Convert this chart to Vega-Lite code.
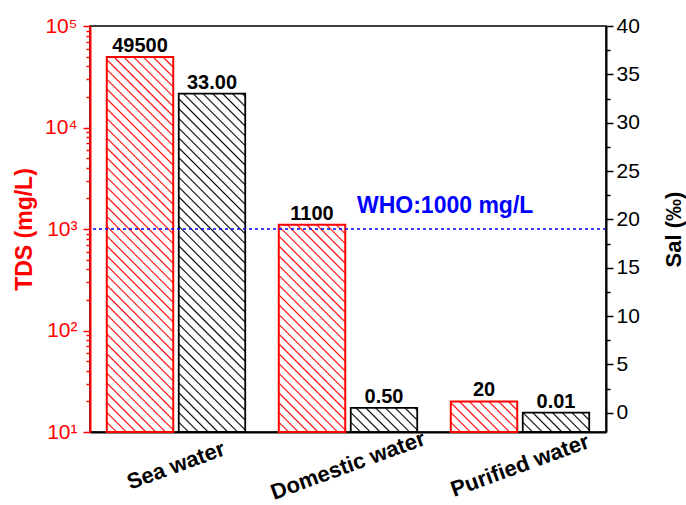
{
  "$schema": "https://vega.github.io/schema/vega-lite/v6.json",
  "width": 516,
  "height": 406,
  "autosize": "none",
  "padding": {"left": 90, "top": 26, "right": 80, "bottom": 73},
  "background": "white",
  "config": {
    "font": "Liberation Sans",
    "view": {"stroke": "#000", "strokeWidth": 1.5},
    "axisX": {
      "labelAngle": -20, "labelAlign": "center", "labelBaseline": "middle",
      "labelFontSize": 22, "labelFontWeight": "bold", "labelColor": "#000",
      "labelPadding": 33, "ticks": false, "domainColor": "#000", "domainWidth": 2,
      "zindex": 1, "grid": false
    }
  },
  "data": {
    "values": [
      {"cat": "Sea water", "series": "TDS", "value": 49500},
      {"cat": "Sea water", "series": "Sal", "value": 33},
      {"cat": "Domestic water", "series": "TDS", "value": 1100},
      {"cat": "Domestic water", "series": "Sal", "value": 0.5},
      {"cat": "Purified water", "series": "TDS", "value": 20},
      {"cat": "Purified water", "series": "Sal", "value": 0.01},
      {"series": "limit", "value": 1000, "note": "WHO:1000 mg/L"}
    ]
  },
  "layer": [
    {
      "encoding": {
        "y": {
          "field": "value", "type": "quantitative",
          "scale": {"domain": [-2, 40], "nice": false, "zero": false},
          "axis": {
            "orient": "right", "title": "Sal (‰)", "titleColor": "#000", "titleFontSize": 22, "titleFontWeight": "bold",
            "titleAngle": 270, "titleBaseline": "top", "titlePadding": 24,
            "values": [0,2.5,5,7.5,10,12.5,15,17.5,20,22.5,25,27.5,30,32.5,35,37.5,40],
            "format": "d",
            "labelExpr": "datum.value % 5 == 0 ? datum.label : ''",
            "labelColor": "#000", "labelFontSize": 21, "labelPadding": 3, "labelOverlap": false,
            "domainColor": "#000", "domainWidth": 2, "tickColor": "#000", "tickWidth": 1.5,
            "tickSize": {"condition": {"test": "datum.value % 5 == 0", "value": 7}, "value": 4},
            "grid": false, "zindex": 1
          }
        }
      },
      "layer": [
        {
          "transform": [{"filter": "datum.series == 'Sal' && datum.cat == 'Sea water'"}],
          "mark": {"type": "bar", "stroke": "#000", "strokeWidth": 1.8, "fill": {"gradient": "linear", "x1": 0, "y1": 1, "x2": 0.274001, "y2": -0.394456, "stops": [
            {"offset":0,"color":"#000"},{"offset":0.0032,"color":"#fff"},{"offset":0.0168,"color":"#fff"},
            {"offset":0.02,"color":"#000"},{"offset":0.0232,"color":"#fff"},{"offset":0.0368,"color":"#fff"},
            {"offset":0.04,"color":"#000"},{"offset":0.0432,"color":"#fff"},{"offset":0.0568,"color":"#fff"},
            {"offset":0.06,"color":"#000"},{"offset":0.0632,"color":"#fff"},{"offset":0.0768,"color":"#fff"},
            {"offset":0.08,"color":"#000"},{"offset":0.0832,"color":"#fff"},{"offset":0.0968,"color":"#fff"},
            {"offset":0.1,"color":"#000"},{"offset":0.1032,"color":"#fff"},{"offset":0.1168,"color":"#fff"},
            {"offset":0.12,"color":"#000"},{"offset":0.1232,"color":"#fff"},{"offset":0.1368,"color":"#fff"},
            {"offset":0.14,"color":"#000"},{"offset":0.1432,"color":"#fff"},{"offset":0.1568,"color":"#fff"},
            {"offset":0.16,"color":"#000"},{"offset":0.1632,"color":"#fff"},{"offset":0.1768,"color":"#fff"},
            {"offset":0.18,"color":"#000"},{"offset":0.1832,"color":"#fff"},{"offset":0.1968,"color":"#fff"},
            {"offset":0.2,"color":"#000"},{"offset":0.2032,"color":"#fff"},{"offset":0.2168,"color":"#fff"},
            {"offset":0.22,"color":"#000"},{"offset":0.2232,"color":"#fff"},{"offset":0.2368,"color":"#fff"},
            {"offset":0.24,"color":"#000"},{"offset":0.2432,"color":"#fff"},{"offset":0.2568,"color":"#fff"},
            {"offset":0.26,"color":"#000"},{"offset":0.2632,"color":"#fff"},{"offset":0.2768,"color":"#fff"},
            {"offset":0.28,"color":"#000"},{"offset":0.2832,"color":"#fff"},{"offset":0.2968,"color":"#fff"},
            {"offset":0.3,"color":"#000"},{"offset":0.3032,"color":"#fff"},{"offset":0.3168,"color":"#fff"},
            {"offset":0.32,"color":"#000"},{"offset":0.3232,"color":"#fff"},{"offset":0.3368,"color":"#fff"},
            {"offset":0.34,"color":"#000"},{"offset":0.3432,"color":"#fff"},{"offset":0.3568,"color":"#fff"},
            {"offset":0.36,"color":"#000"},{"offset":0.3632,"color":"#fff"},{"offset":0.3768,"color":"#fff"},
            {"offset":0.38,"color":"#000"},{"offset":0.3832,"color":"#fff"},{"offset":0.3968,"color":"#fff"},
            {"offset":0.4,"color":"#000"},{"offset":0.4032,"color":"#fff"},{"offset":0.4168,"color":"#fff"},
            {"offset":0.42,"color":"#000"},{"offset":0.4232,"color":"#fff"},{"offset":0.4368,"color":"#fff"},
            {"offset":0.44,"color":"#000"},{"offset":0.4432,"color":"#fff"},{"offset":0.4568,"color":"#fff"},
            {"offset":0.46,"color":"#000"},{"offset":0.4632,"color":"#fff"},{"offset":0.4768,"color":"#fff"},
            {"offset":0.48,"color":"#000"},{"offset":0.4832,"color":"#fff"},{"offset":0.4968,"color":"#fff"},
            {"offset":0.5,"color":"#000"},{"offset":0.5032,"color":"#fff"},{"offset":0.5168,"color":"#fff"},
            {"offset":0.52,"color":"#000"},{"offset":0.5232,"color":"#fff"},{"offset":0.5368,"color":"#fff"},
            {"offset":0.54,"color":"#000"},{"offset":0.5432,"color":"#fff"},{"offset":0.5568,"color":"#fff"},
            {"offset":0.56,"color":"#000"},{"offset":0.5632,"color":"#fff"},{"offset":0.5768,"color":"#fff"},
            {"offset":0.58,"color":"#000"},{"offset":0.5832,"color":"#fff"},{"offset":0.5968,"color":"#fff"},
            {"offset":0.6,"color":"#000"},{"offset":0.6032,"color":"#fff"},{"offset":0.6168,"color":"#fff"},
            {"offset":0.62,"color":"#000"},{"offset":0.6232,"color":"#fff"},{"offset":0.6368,"color":"#fff"},
            {"offset":0.64,"color":"#000"},{"offset":0.6432,"color":"#fff"},{"offset":0.6568,"color":"#fff"},
            {"offset":0.66,"color":"#000"},{"offset":0.6632,"color":"#fff"},{"offset":0.6768,"color":"#fff"},
            {"offset":0.68,"color":"#000"},{"offset":0.6832,"color":"#fff"},{"offset":0.6968,"color":"#fff"},
            {"offset":0.7,"color":"#000"},{"offset":0.7032,"color":"#fff"},{"offset":0.7168,"color":"#fff"},
            {"offset":0.72,"color":"#000"},{"offset":0.7232,"color":"#fff"},{"offset":0.7368,"color":"#fff"},
            {"offset":0.74,"color":"#000"},{"offset":0.7432,"color":"#fff"},{"offset":0.7568,"color":"#fff"},
            {"offset":0.76,"color":"#000"},{"offset":0.7632,"color":"#fff"},{"offset":0.7768,"color":"#fff"},
            {"offset":0.78,"color":"#000"},{"offset":0.7832,"color":"#fff"},{"offset":0.7968,"color":"#fff"},
            {"offset":0.8,"color":"#000"},{"offset":0.8032,"color":"#fff"},{"offset":0.8168,"color":"#fff"},
            {"offset":0.82,"color":"#000"},{"offset":0.8232,"color":"#fff"},{"offset":0.8368,"color":"#fff"}
          ]}},
          "encoding": {
            "x": {"field": "cat", "type": "nominal", "title": null, "scale": {"domain": ["Sea water", "Domestic water", "Purified water"], "paddingInner": 0.195, "paddingOuter": 0.0975}},
            "xOffset": {"field": "series", "type": "nominal", "scale": {"domain": ["TDS", "Sal"], "paddingInner": 0.0764, "paddingOuter": 0}},
            "y2": {"datum": -2}
          }
        },
        {
          "transform": [{"filter": "datum.series == 'Sal' && datum.cat == 'Domestic water'"}],
          "mark": {"type": "bar", "stroke": "#000", "strokeWidth": 1.8, "fill": {"gradient": "linear", "x1": 0, "y1": 1, "x2": 6.51011, "y2": -1.36688, "stops": [
            {"offset":0,"color":"#000"},{"offset":0.0032,"color":"#fff"},{"offset":0.0168,"color":"#fff"},
            {"offset":0.02,"color":"#000"},{"offset":0.0232,"color":"#fff"},{"offset":0.0368,"color":"#fff"},
            {"offset":0.04,"color":"#000"},{"offset":0.0432,"color":"#fff"},{"offset":0.0568,"color":"#fff"},
            {"offset":0.06,"color":"#000"},{"offset":0.0632,"color":"#fff"},{"offset":0.0768,"color":"#fff"},
            {"offset":0.08,"color":"#000"},{"offset":0.0832,"color":"#fff"},{"offset":0.0968,"color":"#fff"},
            {"offset":0.1,"color":"#000"},{"offset":0.1032,"color":"#fff"},{"offset":0.1168,"color":"#fff"},
            {"offset":0.12,"color":"#000"},{"offset":0.1232,"color":"#fff"},{"offset":0.1368,"color":"#fff"},
            {"offset":0.14,"color":"#000"},{"offset":0.1432,"color":"#fff"},{"offset":0.1568,"color":"#fff"},
            {"offset":0.16,"color":"#000"},{"offset":0.1632,"color":"#fff"},{"offset":0.1768,"color":"#fff"},
            {"offset":0.18,"color":"#000"},{"offset":0.1832,"color":"#fff"},{"offset":0.1968,"color":"#fff"}
          ]}},
          "encoding": {
            "x": {"field": "cat", "type": "nominal", "title": null, "scale": {"domain": ["Sea water", "Domestic water", "Purified water"], "paddingInner": 0.195, "paddingOuter": 0.0975}},
            "xOffset": {"field": "series", "type": "nominal", "scale": {"domain": ["TDS", "Sal"], "paddingInner": 0.0764, "paddingOuter": 0}},
            "y2": {"datum": -2}
          }
        },
        {
          "transform": [{"filter": "datum.series == 'Sal' && datum.cat == 'Purified water'"}],
          "mark": {"type": "bar", "stroke": "#000", "strokeWidth": 1.8, "fill": {"gradient": "linear", "x1": 0, "y1": 1, "x2": 6.79058, "y2": -0.98468, "stops": [
            {"offset":0,"color":"#000"},{"offset":0.0032,"color":"#fff"},{"offset":0.0168,"color":"#fff"},
            {"offset":0.02,"color":"#000"},{"offset":0.0232,"color":"#fff"},{"offset":0.0368,"color":"#fff"},
            {"offset":0.04,"color":"#000"},{"offset":0.0432,"color":"#fff"},{"offset":0.0568,"color":"#fff"},
            {"offset":0.06,"color":"#000"},{"offset":0.0632,"color":"#fff"},{"offset":0.0768,"color":"#fff"},
            {"offset":0.08,"color":"#000"},{"offset":0.0832,"color":"#fff"},{"offset":0.0968,"color":"#fff"},
            {"offset":0.1,"color":"#000"},{"offset":0.1032,"color":"#fff"},{"offset":0.1168,"color":"#fff"},
            {"offset":0.12,"color":"#000"},{"offset":0.1232,"color":"#fff"},{"offset":0.1368,"color":"#fff"},
            {"offset":0.14,"color":"#000"},{"offset":0.1432,"color":"#fff"},{"offset":0.1568,"color":"#fff"},
            {"offset":0.16,"color":"#000"},{"offset":0.1632,"color":"#fff"},{"offset":0.1768,"color":"#fff"}
          ]}},
          "encoding": {
            "x": {"field": "cat", "type": "nominal", "title": null, "scale": {"domain": ["Sea water", "Domestic water", "Purified water"], "paddingInner": 0.195, "paddingOuter": 0.0975}},
            "xOffset": {"field": "series", "type": "nominal", "scale": {"domain": ["TDS", "Sal"], "paddingInner": 0.0764, "paddingOuter": 0}},
            "y2": {"datum": -2}
          }
        },
        {
          "transform": [{"filter": "datum.series == 'Sal'"}],
          "mark": {"type": "text", "fontSize": 20, "fontWeight": "bold", "baseline": "alphabetic", "dy": -5, "color": "#000"},
          "encoding": {
            "x": {"field": "cat", "type": "nominal", "title": null, "scale": {"domain": ["Sea water", "Domestic water", "Purified water"], "paddingInner": 0.195, "paddingOuter": 0.0975}},
            "xOffset": {"field": "series", "type": "nominal", "scale": {"domain": ["TDS", "Sal"], "paddingInner": 0.0764, "paddingOuter": 0}},
            "text": {"field": "value", "type": "quantitative", "format": ".2f"}
          }
        }
      ]
    },
    {
      "encoding": {
        "y": {
          "field": "value", "type": "quantitative",
          "scale": {"type": "log", "domain": [10, 100000], "nice": false},
          "axis": {
            "orient": "left",
            "title": "TDS (mg/L)", "titleColor": "#f00", "titleFontSize": 23, "titleFontWeight": "bold", "titlePadding": 8,
            "values": [10,20,30,40,50,60,70,80,90,100,200,300,400,500,600,700,800,900,1000,2000,3000,4000,5000,6000,7000,8000,9000,10000,20000,30000,40000,50000,60000,70000,80000,90000,100000],
            "labelExpr": "datum.value==10?'10¹':datum.value==100?'10²':datum.value==1000?'10³':datum.value==10000?'10⁴':datum.value==100000?'10⁵':''",
            "labelColor": "#f00", "labelFontSize": 21, "labelPadding": 6, "labelOverlap": false,
            "domainColor": "#f00", "domainWidth": 2, "tickColor": "#f00", "tickWidth": 1.5,
            "tickSize": {"condition": {"test": "indexof([10,100,1000,10000,100000], datum.value) >= 0", "value": 7}, "value": 4},
            "grid": false, "zindex": 1
          }
        }
      },
      "layer": [
        {
          "transform": [{"filter": "datum.series == 'TDS' && datum.cat == 'Sea water'"}],
          "mark": {"type": "bar", "stroke": "#f00", "strokeWidth": 2, "fill": {"gradient": "linear", "x1": 0, "y1": 1, "x2": 0.224584, "y2": -0.266833, "stops": [
            {"offset":0,"color":"#f00"},{"offset":0.0032,"color":"#fff"},{"offset":0.0168,"color":"#fff"},
            {"offset":0.02,"color":"#f00"},{"offset":0.0232,"color":"#fff"},{"offset":0.0368,"color":"#fff"},
            {"offset":0.04,"color":"#f00"},{"offset":0.0432,"color":"#fff"},{"offset":0.0568,"color":"#fff"},
            {"offset":0.06,"color":"#f00"},{"offset":0.0632,"color":"#fff"},{"offset":0.0768,"color":"#fff"},
            {"offset":0.08,"color":"#f00"},{"offset":0.0832,"color":"#fff"},{"offset":0.0968,"color":"#fff"},
            {"offset":0.1,"color":"#f00"},{"offset":0.1032,"color":"#fff"},{"offset":0.1168,"color":"#fff"},
            {"offset":0.12,"color":"#f00"},{"offset":0.1232,"color":"#fff"},{"offset":0.1368,"color":"#fff"},
            {"offset":0.14,"color":"#f00"},{"offset":0.1432,"color":"#fff"},{"offset":0.1568,"color":"#fff"},
            {"offset":0.16,"color":"#f00"},{"offset":0.1632,"color":"#fff"},{"offset":0.1768,"color":"#fff"},
            {"offset":0.18,"color":"#f00"},{"offset":0.1832,"color":"#fff"},{"offset":0.1968,"color":"#fff"},
            {"offset":0.2,"color":"#f00"},{"offset":0.2032,"color":"#fff"},{"offset":0.2168,"color":"#fff"},
            {"offset":0.22,"color":"#f00"},{"offset":0.2232,"color":"#fff"},{"offset":0.2368,"color":"#fff"},
            {"offset":0.24,"color":"#f00"},{"offset":0.2432,"color":"#fff"},{"offset":0.2568,"color":"#fff"},
            {"offset":0.26,"color":"#f00"},{"offset":0.2632,"color":"#fff"},{"offset":0.2768,"color":"#fff"},
            {"offset":0.28,"color":"#f00"},{"offset":0.2832,"color":"#fff"},{"offset":0.2968,"color":"#fff"},
            {"offset":0.3,"color":"#f00"},{"offset":0.3032,"color":"#fff"},{"offset":0.3168,"color":"#fff"},
            {"offset":0.32,"color":"#f00"},{"offset":0.3232,"color":"#fff"},{"offset":0.3368,"color":"#fff"},
            {"offset":0.34,"color":"#f00"},{"offset":0.3432,"color":"#fff"},{"offset":0.3568,"color":"#fff"},
            {"offset":0.36,"color":"#f00"},{"offset":0.3632,"color":"#fff"},{"offset":0.3768,"color":"#fff"},
            {"offset":0.38,"color":"#f00"},{"offset":0.3832,"color":"#fff"},{"offset":0.3968,"color":"#fff"},
            {"offset":0.4,"color":"#f00"},{"offset":0.4032,"color":"#fff"},{"offset":0.4168,"color":"#fff"},
            {"offset":0.42,"color":"#f00"},{"offset":0.4232,"color":"#fff"},{"offset":0.4368,"color":"#fff"},
            {"offset":0.44,"color":"#f00"},{"offset":0.4432,"color":"#fff"},{"offset":0.4568,"color":"#fff"},
            {"offset":0.46,"color":"#f00"},{"offset":0.4632,"color":"#fff"},{"offset":0.4768,"color":"#fff"},
            {"offset":0.48,"color":"#f00"},{"offset":0.4832,"color":"#fff"},{"offset":0.4968,"color":"#fff"},
            {"offset":0.5,"color":"#f00"},{"offset":0.5032,"color":"#fff"},{"offset":0.5168,"color":"#fff"},
            {"offset":0.52,"color":"#f00"},{"offset":0.5232,"color":"#fff"},{"offset":0.5368,"color":"#fff"},
            {"offset":0.54,"color":"#f00"},{"offset":0.5432,"color":"#fff"},{"offset":0.5568,"color":"#fff"},
            {"offset":0.56,"color":"#f00"},{"offset":0.5632,"color":"#fff"},{"offset":0.5768,"color":"#fff"},
            {"offset":0.58,"color":"#f00"},{"offset":0.5832,"color":"#fff"},{"offset":0.5968,"color":"#fff"},
            {"offset":0.6,"color":"#f00"},{"offset":0.6032,"color":"#fff"},{"offset":0.6168,"color":"#fff"},
            {"offset":0.62,"color":"#f00"},{"offset":0.6232,"color":"#fff"},{"offset":0.6368,"color":"#fff"},
            {"offset":0.64,"color":"#f00"},{"offset":0.6432,"color":"#fff"},{"offset":0.6568,"color":"#fff"},
            {"offset":0.66,"color":"#f00"},{"offset":0.6632,"color":"#fff"},{"offset":0.6768,"color":"#fff"},
            {"offset":0.68,"color":"#f00"},{"offset":0.6832,"color":"#fff"},{"offset":0.6968,"color":"#fff"},
            {"offset":0.7,"color":"#f00"},{"offset":0.7032,"color":"#fff"},{"offset":0.7168,"color":"#fff"},
            {"offset":0.72,"color":"#f00"},{"offset":0.7232,"color":"#fff"},{"offset":0.7368,"color":"#fff"},
            {"offset":0.74,"color":"#f00"},{"offset":0.7432,"color":"#fff"},{"offset":0.7568,"color":"#fff"},
            {"offset":0.76,"color":"#f00"},{"offset":0.7632,"color":"#fff"},{"offset":0.7768,"color":"#fff"},
            {"offset":0.78,"color":"#f00"},{"offset":0.7832,"color":"#fff"},{"offset":0.7968,"color":"#fff"},
            {"offset":0.8,"color":"#f00"},{"offset":0.8032,"color":"#fff"},{"offset":0.8168,"color":"#fff"},
            {"offset":0.82,"color":"#f00"},{"offset":0.8232,"color":"#fff"},{"offset":0.8368,"color":"#fff"},
            {"offset":0.84,"color":"#f00"},{"offset":0.8432,"color":"#fff"},{"offset":0.8568,"color":"#fff"},
            {"offset":0.86,"color":"#f00"},{"offset":0.8632,"color":"#fff"},{"offset":0.8768,"color":"#fff"},
            {"offset":0.88,"color":"#f00"},{"offset":0.8832,"color":"#fff"},{"offset":0.8968,"color":"#fff"},
            {"offset":0.9,"color":"#f00"},{"offset":0.9032,"color":"#fff"},{"offset":0.9168,"color":"#fff"}
          ]}},
          "encoding": {
            "x": {"field": "cat", "type": "nominal", "title": null, "scale": {"domain": ["Sea water", "Domestic water", "Purified water"], "paddingInner": 0.195, "paddingOuter": 0.0975}},
            "xOffset": {"field": "series", "type": "nominal", "scale": {"domain": ["TDS", "Sal"], "paddingInner": 0.0764, "paddingOuter": 0}},
            "y2": {"datum": 10}
          }
        },
        {
          "transform": [{"filter": "datum.series == 'TDS' && datum.cat == 'Domestic water'"}],
          "mark": {"type": "bar", "stroke": "#f00", "strokeWidth": 2, "fill": {"gradient": "linear", "x1": 0, "y1": 1, "x2": 0.68795, "y2": -1.14415, "stops": [
            {"offset":0,"color":"#f00"},{"offset":0.0032,"color":"#fff"},{"offset":0.0168,"color":"#fff"},
            {"offset":0.02,"color":"#f00"},{"offset":0.0232,"color":"#fff"},{"offset":0.0368,"color":"#fff"},
            {"offset":0.04,"color":"#f00"},{"offset":0.0432,"color":"#fff"},{"offset":0.0568,"color":"#fff"},
            {"offset":0.06,"color":"#f00"},{"offset":0.0632,"color":"#fff"},{"offset":0.0768,"color":"#fff"},
            {"offset":0.08,"color":"#f00"},{"offset":0.0832,"color":"#fff"},{"offset":0.0968,"color":"#fff"},
            {"offset":0.1,"color":"#f00"},{"offset":0.1032,"color":"#fff"},{"offset":0.1168,"color":"#fff"},
            {"offset":0.12,"color":"#f00"},{"offset":0.1232,"color":"#fff"},{"offset":0.1368,"color":"#fff"},
            {"offset":0.14,"color":"#f00"},{"offset":0.1432,"color":"#fff"},{"offset":0.1568,"color":"#fff"},
            {"offset":0.16,"color":"#f00"},{"offset":0.1632,"color":"#fff"},{"offset":0.1768,"color":"#fff"},
            {"offset":0.18,"color":"#f00"},{"offset":0.1832,"color":"#fff"},{"offset":0.1968,"color":"#fff"},
            {"offset":0.2,"color":"#f00"},{"offset":0.2032,"color":"#fff"},{"offset":0.2168,"color":"#fff"},
            {"offset":0.22,"color":"#f00"},{"offset":0.2232,"color":"#fff"},{"offset":0.2368,"color":"#fff"},
            {"offset":0.24,"color":"#f00"},{"offset":0.2432,"color":"#fff"},{"offset":0.2568,"color":"#fff"},
            {"offset":0.26,"color":"#f00"},{"offset":0.2632,"color":"#fff"},{"offset":0.2768,"color":"#fff"},
            {"offset":0.28,"color":"#f00"},{"offset":0.2832,"color":"#fff"},{"offset":0.2968,"color":"#fff"},
            {"offset":0.3,"color":"#f00"},{"offset":0.3032,"color":"#fff"},{"offset":0.3168,"color":"#fff"},
            {"offset":0.32,"color":"#f00"},{"offset":0.3232,"color":"#fff"},{"offset":0.3368,"color":"#fff"},
            {"offset":0.34,"color":"#f00"},{"offset":0.3432,"color":"#fff"},{"offset":0.3568,"color":"#fff"},
            {"offset":0.36,"color":"#f00"},{"offset":0.3632,"color":"#fff"},{"offset":0.3768,"color":"#fff"},
            {"offset":0.38,"color":"#f00"},{"offset":0.3832,"color":"#fff"},{"offset":0.3968,"color":"#fff"},
            {"offset":0.4,"color":"#f00"},{"offset":0.4032,"color":"#fff"},{"offset":0.4168,"color":"#fff"},
            {"offset":0.42,"color":"#f00"},{"offset":0.4232,"color":"#fff"},{"offset":0.4368,"color":"#fff"},
            {"offset":0.44,"color":"#f00"},{"offset":0.4432,"color":"#fff"},{"offset":0.4568,"color":"#fff"},
            {"offset":0.46,"color":"#f00"},{"offset":0.4632,"color":"#fff"},{"offset":0.4768,"color":"#fff"},
            {"offset":0.48,"color":"#f00"},{"offset":0.4832,"color":"#fff"},{"offset":0.4968,"color":"#fff"},
            {"offset":0.5,"color":"#f00"},{"offset":0.5032,"color":"#fff"},{"offset":0.5168,"color":"#fff"},
            {"offset":0.52,"color":"#f00"},{"offset":0.5232,"color":"#fff"},{"offset":0.5368,"color":"#fff"},
            {"offset":0.54,"color":"#f00"},{"offset":0.5432,"color":"#fff"},{"offset":0.5568,"color":"#fff"},
            {"offset":0.56,"color":"#f00"},{"offset":0.5632,"color":"#fff"},{"offset":0.5768,"color":"#fff"}
          ]}},
          "encoding": {
            "x": {"field": "cat", "type": "nominal", "title": null, "scale": {"domain": ["Sea water", "Domestic water", "Purified water"], "paddingInner": 0.195, "paddingOuter": 0.0975}},
            "xOffset": {"field": "series", "type": "nominal", "scale": {"domain": ["TDS", "Sal"], "paddingInner": 0.0764, "paddingOuter": 0}},
            "y2": {"datum": 10}
          }
        },
        {
          "transform": [{"filter": "datum.series == 'TDS' && datum.cat == 'Purified water'"}],
          "mark": {"type": "bar", "stroke": "#f00", "strokeWidth": 2, "fill": {"gradient": "linear", "x1": 0, "y1": 1, "x2": 6.08553, "y2": -1.79648, "stops": [
            {"offset":0,"color":"#f00"},{"offset":0.0032,"color":"#fff"},{"offset":0.0168,"color":"#fff"},
            {"offset":0.02,"color":"#f00"},{"offset":0.0232,"color":"#fff"},{"offset":0.0368,"color":"#fff"},
            {"offset":0.04,"color":"#f00"},{"offset":0.0432,"color":"#fff"},{"offset":0.0568,"color":"#fff"},
            {"offset":0.06,"color":"#f00"},{"offset":0.0632,"color":"#fff"},{"offset":0.0768,"color":"#fff"},
            {"offset":0.08,"color":"#f00"},{"offset":0.0832,"color":"#fff"},{"offset":0.0968,"color":"#fff"},
            {"offset":0.1,"color":"#f00"},{"offset":0.1032,"color":"#fff"},{"offset":0.1168,"color":"#fff"},
            {"offset":0.12,"color":"#f00"},{"offset":0.1232,"color":"#fff"},{"offset":0.1368,"color":"#fff"},
            {"offset":0.14,"color":"#f00"},{"offset":0.1432,"color":"#fff"},{"offset":0.1568,"color":"#fff"},
            {"offset":0.16,"color":"#f00"},{"offset":0.1632,"color":"#fff"},{"offset":0.1768,"color":"#fff"},
            {"offset":0.18,"color":"#f00"},{"offset":0.1832,"color":"#fff"},{"offset":0.1968,"color":"#fff"},
            {"offset":0.2,"color":"#f00"},{"offset":0.2032,"color":"#fff"}
          ]}},
          "encoding": {
            "x": {"field": "cat", "type": "nominal", "title": null, "scale": {"domain": ["Sea water", "Domestic water", "Purified water"], "paddingInner": 0.195, "paddingOuter": 0.0975}},
            "xOffset": {"field": "series", "type": "nominal", "scale": {"domain": ["TDS", "Sal"], "paddingInner": 0.0764, "paddingOuter": 0}},
            "y2": {"datum": 10}
          }
        },
        {
          "transform": [{"filter": "datum.series == 'TDS'"}],
          "mark": {"type": "text", "fontSize": 20, "fontWeight": "bold", "baseline": "alphabetic", "dy": -5, "color": "#000"},
          "encoding": {
            "x": {"field": "cat", "type": "nominal", "title": null, "scale": {"domain": ["Sea water", "Domestic water", "Purified water"], "paddingInner": 0.195, "paddingOuter": 0.0975}},
            "xOffset": {"field": "series", "type": "nominal", "scale": {"domain": ["TDS", "Sal"], "paddingInner": 0.0764, "paddingOuter": 0}},
            "text": {"field": "value", "type": "quantitative", "format": "d"}
          }
        },
        {
          "transform": [{"filter": "datum.series == 'limit'"}],
          "mark": {"type": "rule", "color": "#0000ff", "strokeWidth": 1.5, "strokeDash": [3, 3]},
          "encoding": {}
        },
        {
          "transform": [{"filter": "datum.series == 'limit'"}],
          "mark": {"type": "text", "align": "left", "baseline": "alphabetic", "dx": 9, "dy": -16, "fontSize": 23, "fontWeight": "bold", "color": "#0000ff"},
          "encoding": {
            "x": {"datum": "Domestic water", "type": "nominal", "title": null, "scale": {"domain": ["Sea water", "Domestic water", "Purified water"], "paddingInner": 0.195, "paddingOuter": 0.0975}},
            "text": {"field": "note", "type": "nominal"}
          }
        }
      ]
    }
  ],
  "resolve": {"scale": {"y": "independent"}}
}
